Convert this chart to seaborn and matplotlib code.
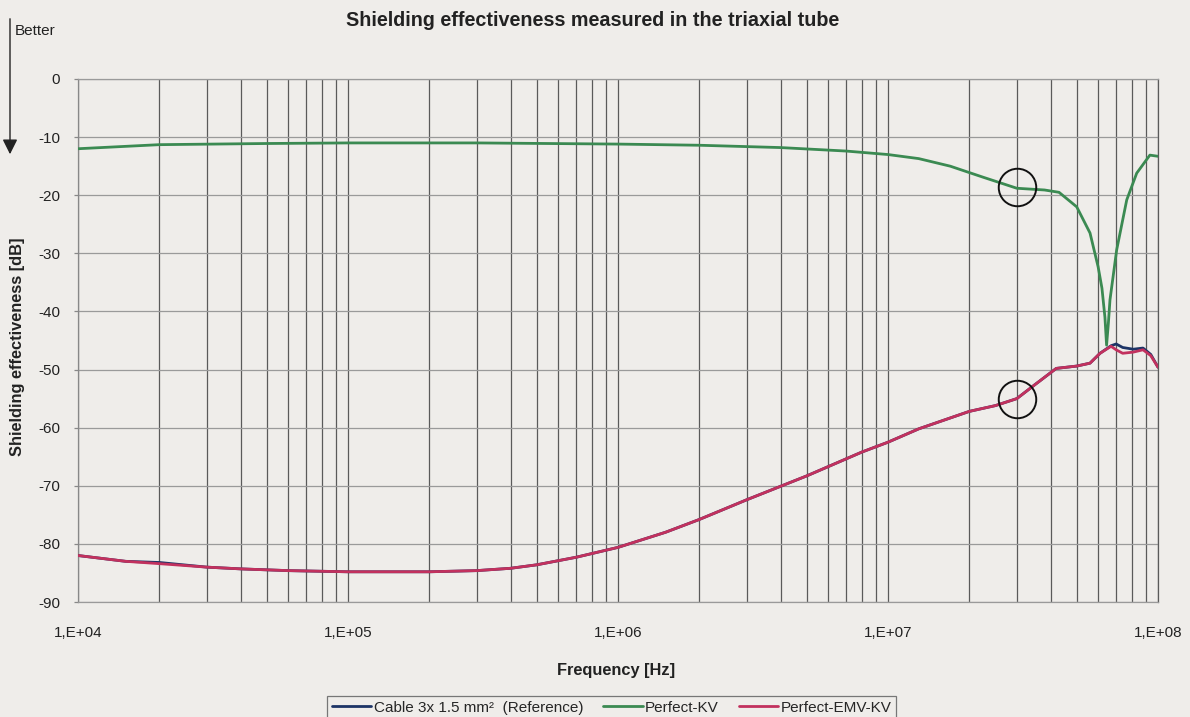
import matplotlib
matplotlib.use("Agg")
import matplotlib.pyplot as plt
from matplotlib.ticker import FixedLocator, FixedFormatter, LogLocator, NullFormatter
import numpy as np
import pandas as pd
import seaborn as sns

# Frequencies [Hz] and shielding effectiveness [dB]
freq_ref = [1e4, 1.5e4, 2e4, 3e4, 4e4, 6e4, 1e5, 2e5, 3e5, 4e5, 5e5, 7e5,
            1e6, 1.5e6, 2e6, 3e6, 5e6, 8e6, 1e7, 1.3e7, 2e7, 2.5e7, 3e7, 3.5e7,
            4.2e7, 5e7, 5.6e7, 6.1e7, 6.7e7, 7.0e7, 7.4e7, 8.1e7, 8.8e7, 9.4e7, 1e8]
se_cable = [-82.0, -83.0, -83.2, -84.0, -84.3, -84.6, -84.8, -84.8, -84.6, -84.2, -83.6, -82.3,
            -80.6, -78.0, -75.8, -72.4, -68.3, -64.2, -62.5, -60.2, -57.2, -56.2, -55.0, -52.6,
            -49.8, -49.4, -48.9, -47.2, -45.9, -45.6, -46.2, -46.5, -46.3, -47.4, -49.6]
se_emv = [-82.0, -83.0, -83.4, -84.0, -84.3, -84.6, -84.8, -84.8, -84.6, -84.2, -83.6, -82.3,
          -80.6, -78.0, -75.8, -72.4, -68.3, -64.2, -62.5, -60.2, -57.2, -56.2, -55.0, -52.6,
          -49.8, -49.4, -48.9, -47.2, -46.0, -46.6, -47.2, -47.0, -46.6, -47.6, -49.6]

freq_kv = [1e4, 2e4, 5e4, 1e5, 3e5, 1e6, 2e6, 4e6, 7e6, 1e7, 1.3e7, 1.7e7, 2.25e7,
           3e7, 3.8e7, 4.3e7, 5e7, 5.6e7, 6e7, 6.2e7, 6.36e7, 6.45e7, 6.55e7, 6.64e7,
           7.03e7, 7.66e7, 8.34e7, 9.33e7, 1e8]
se_kv = [-12.0, -11.3, -11.1, -11.0, -11.0, -11.2, -11.4, -11.8, -12.4, -13.0, -13.7, -15.0, -16.9,
         -18.8, -19.1, -19.5, -22.0, -26.5, -32.3, -36.0, -41.0, -45.8, -42.0, -38.0,
         -29.4, -20.8, -16.2, -13.1, -13.3]

# Highlighted points at 30 MHz
mark_freq = [3e7, 3e7]
mark_se = [-18.6, -55.0]

x_tick_vals = [1e4, 1e5, 1e6, 1e7, 1e8]
x_tick_labels = ["1,E+04", "1,E+05", "1,E+06", "1,E+07", "1,E+08"]
y_tick_vals = list(range(-90, 1, 10))

series_names = ["Cable 3x 1.5 mm²  (Reference)", "Perfect-KV", "Perfect-EMV-KV"]
series_colors = ["#1d3466", "#3b8a52", "#c2315e"]

bg = "#efedea"
sns.set_style("white", {"axes.facecolor": bg, "figure.facecolor": bg})
plt.rcParams["font.family"] = ["Liberation Sans", "DejaVu Sans"]
plt.rcParams["axes.unicode_minus"] = False

fig = plt.figure(figsize=(11.9, 7.17), dpi=100)
ax = fig.add_axes([78 / 1190, 1 - 602 / 717, 1080 / 1190, 523 / 717])

df_cable = pd.DataFrame({"f": freq_ref, "se": se_cable})
df_kv = pd.DataFrame({"f": freq_kv, "se": se_kv})
df_emv = pd.DataFrame({"f": freq_ref, "se": se_emv})

sns.lineplot(data=df_cable, x="f", y="se", ax=ax, color=series_colors[0], lw=2.0,
             label=series_names[0], zorder=3)
sns.lineplot(data=df_kv, x="f", y="se", ax=ax, color=series_colors[1], lw=2.0,
             label=series_names[1], zorder=4)
sns.lineplot(data=df_emv, x="f", y="se", ax=ax, color=series_colors[2], lw=2.0,
             label=series_names[2], zorder=5)

ax.plot(mark_freq, mark_se, ls="none", marker="o", ms=27, mfc="none",
        mec="#111111", mew=1.4, zorder=6)

ax.set_xscale("log")
ax.set_xlim(1e4, 1e8)
ax.set_ylim(-90, 0)

# Grid: dark vertical lines at every log step, lighter horizontal lines every 10 dB
ax.xaxis.set_major_locator(FixedLocator(x_tick_vals))
ax.xaxis.set_major_formatter(FixedFormatter(x_tick_labels))
ax.xaxis.set_minor_locator(LogLocator(base=10, subs=np.arange(2, 10)))
ax.xaxis.set_minor_formatter(NullFormatter())
ax.set_yticks(y_tick_vals)
ax.grid(True, which="both", axis="x", color="#5a5a5a", lw=0.9)
ax.grid(True, which="major", axis="y", color="#9a9a9a", lw=0.9)
ax.set_axisbelow(True)

ax.tick_params(axis="x", which="both", length=0, pad=17, labelsize=11, colors="#222222")
ax.tick_params(axis="y", length=3, width=0.9, color="#888888", pad=10, labelsize=11,
               labelcolor="#222222", left=True)

for side in ["top", "bottom"]:
    ax.spines[side].set_color("#9a9a9a")
ax.spines["left"].set_color("#888888")
ax.spines["right"].set_color("#5a5a5a")
for s in ax.spines.values():
    s.set_linewidth(0.9)

ax.set_xlabel("Frequency [Hz]", fontsize=11.8, fontweight="bold", color="#222222")
ax.set_ylabel("Shielding effectiveness [dB]", fontsize=11.8, fontweight="bold", color="#222222")
ax.xaxis.set_label_coords(0.498, -0.117)
ax.yaxis.set_label_coords(-0.049, 0.489)

ax.get_legend().remove()
handles, labels = ax.get_legend_handles_labels()
leg = fig.legend(handles[:3], labels[:3], loc="lower center", bbox_to_anchor=(0.514, -0.014),
                 ncol=3, fontsize=11, frameon=True, fancybox=False, edgecolor="#777777",
                 facecolor=bg, framealpha=1, handlelength=2.6, handletextpad=0.15,
                 columnspacing=1.3, borderpad=0.3)
leg.get_frame().set_linewidth(0.9)

fig.text(0.498, 0.971, "Shielding effectiveness measured in the triaxial tube",
         ha="center", va="center", fontsize=14.2, fontweight="bold", color="#222222")

fig.text(15 / 1190, 1 - 31 / 717, "Better", ha="left", va="center", fontsize=11, color="#222222")
fig.add_artist(matplotlib.patches.FancyArrowPatch(
    (10 / 1190, 1 - 16 / 717), (10 / 1190, 1 - 157 / 717), transform=fig.transFigure,
    arrowstyle="-|>,head_length=6,head_width=3", color="#222222", lw=1.0, mutation_scale=1.5))

fig.savefig("out.png", dpi=100, facecolor=bg)
